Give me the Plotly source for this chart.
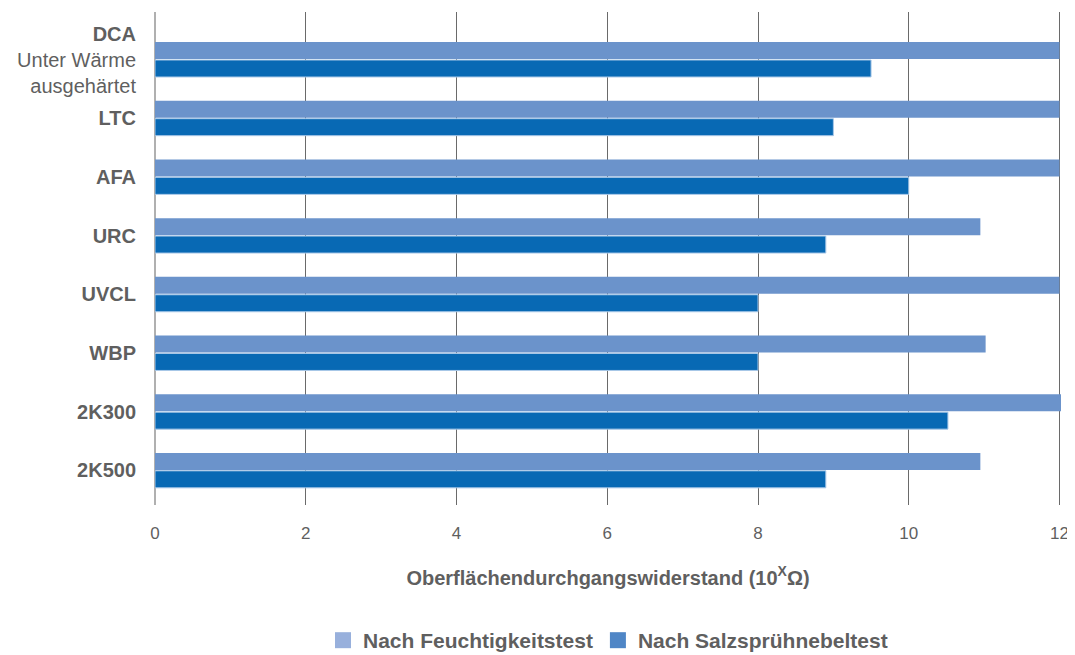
import plotly.graph_objects as go

categories = ["<b>DCA</b><br>Unter Wärme<br>ausgehärtet", "<b>LTC</b>", "<b>AFA</b>", "<b>URC</b>",
              "<b>UVCL</b>", "<b>WBP</b>", "<b>2K300</b>", "<b>2K500</b>"]
feuchtigkeit = [12, 12, 12, 10.95, 12, 11.02, 12.05, 10.95]
salzspruehnebel = [9.5, 9.0, 10.0, 8.9, 8.0, 8.0, 10.52, 8.9]
x_ticks = [0, 2, 4, 6, 8, 10, 12]

series_names = ["Nach Feuchtigkeitstest", "Nach Salzsprühnebeltest"]
bar_colors = ["#6b93cb", "#0869b4"]
legend_colors = ["#98b0dc", "#4f86c6"]

FONT = "Liberation Sans, Arial, sans-serif"
GREY = "#5f5f5f"

fig = go.Figure()
fig.add_trace(go.Bar(y=categories, x=feuchtigkeit, orientation="h", name=series_names[0],
                     marker=dict(color=bar_colors[0], line=dict(width=0)), showlegend=False))
fig.add_trace(go.Bar(y=categories, x=salzspruehnebel, orientation="h", name=series_names[1],
                     marker=dict(color=bar_colors[1], line=dict(width=1, color="#a9c8e8")), showlegend=False))
for name, col in zip(series_names, legend_colors):
    fig.add_trace(go.Scatter(y=[None], x=[None], mode="markers", name=name,
                             marker=dict(color=col, symbol="square", size=17), showlegend=True))

fig.update_layout(
    width=1067, height=657,
    margin=dict(l=147, r=14, t=4, b=157),
    paper_bgcolor="white", plot_bgcolor="white",
    barmode="group", bargap=0.39, bargroupgap=0.05,
    font=dict(family=FONT, color=GREY, size=18),
    showlegend=True,
    legend=dict(orientation="h", x=0.5, xanchor="center", y=-0.3165, yanchor="bottom",
                font=dict(family=FONT, size=21, color=GREY, weight="bold"),
                itemwidth=30, traceorder="normal", tracegroupgap=0),
    xaxis=dict(range=[0, 12.02], tickvals=x_ticks, ticktext=[str(v) for v in x_ticks],
               showgrid=True, gridcolor="#6a6a6a", gridwidth=1,
               zeroline=True, zerolinecolor="#b0b0b0", zerolinewidth=2,
               showline=False, ticks="", ticklen=0, ticklabelstandoff=16,
               ticklabeloverflow="allow",
               tickfont=dict(family=FONT, size=17, color=GREY),
               layer="above traces",
               title=dict(text="<b>Oberflächendurchgangswiderstand (10<sup>X</sup>Ω)</b>",
                          font=dict(family=FONT, size=20, color=GREY), standoff=28)),
    yaxis=dict(type="category", range=[7.59, -0.81], showgrid=False, zeroline=False,
               showline=False, ticks="", ticklen=0, ticklabelstandoff=18,
               tickfont=dict(family=FONT, size=20, color=GREY)),
)

fig.write_html("out.html")
